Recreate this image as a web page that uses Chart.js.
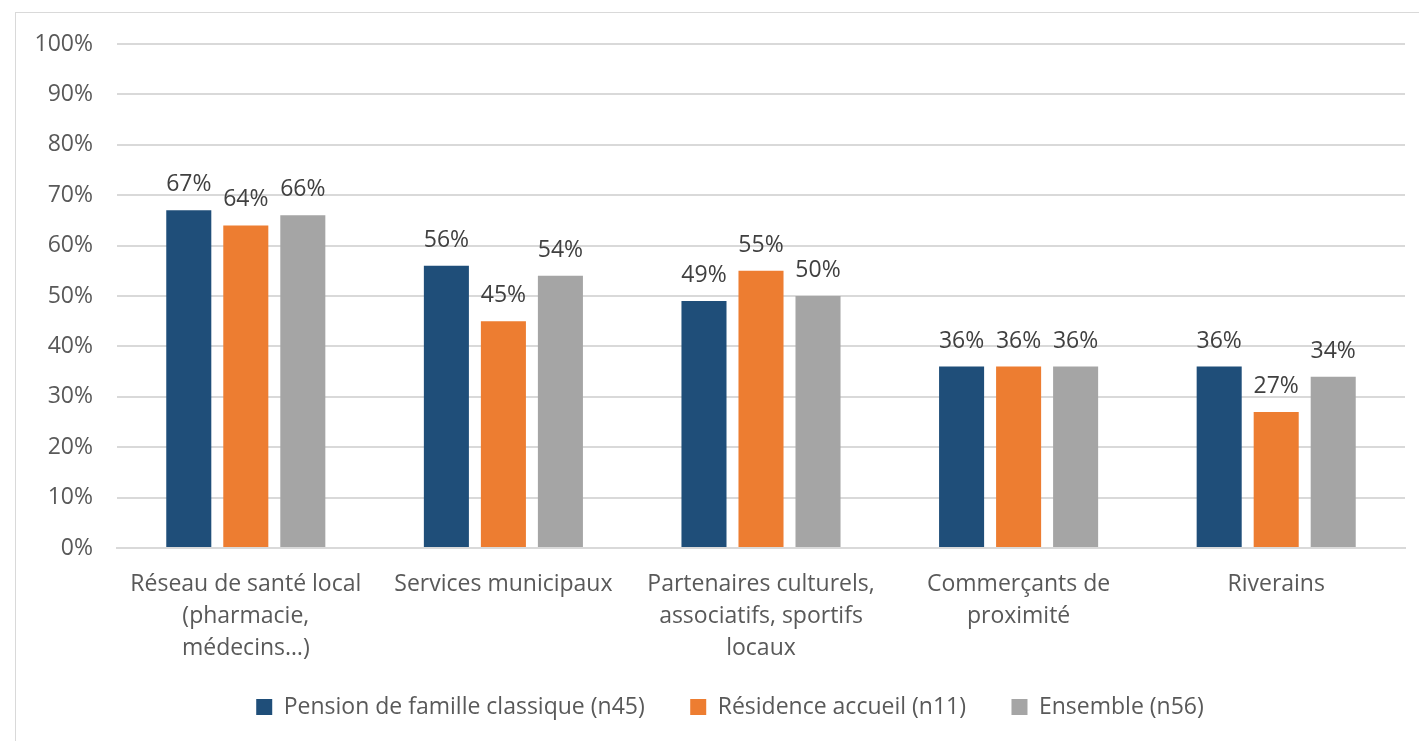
<!DOCTYPE html>
<html lang="fr">
<head>
<meta charset="utf-8">
<title>Partenaires locaux</title>
<script src="https://cdn.jsdelivr.net/npm/chart.js@4.4.1/dist/chart.umd.min.js"></script>
<style>
  html, body { margin: 0; padding: 0; background: #ffffff; }
  #wrap { position: relative; width: 1419px; height: 741px; overflow: hidden; }
  #frame {
    position: absolute; left: 15px; top: 12px; width: 1430px; height: 760px;
    border: 1px solid #d9d9d9; box-sizing: border-box;
  }
  canvas { position: absolute; left: 0; top: 0; }
</style>
</head>
<body>
<div id="wrap">
  <div id="frame"></div>
  <canvas id="chart" width="1419" height="741"></canvas>
</div>
<script>
// Categories (multi-line axis labels)
const categories = [
  ["Réseau de santé local", "(pharmacie,", "médecins…)"],
  ["Services municipaux"],
  ["Partenaires culturels,", "associatifs, sportifs", "locaux"],
  ["Commerçants de", "proximité"],
  ["Riverains"]
];

// Series labels
const seriesNames = [
  "Pension de famille classique (n45)",
  "Résidence accueil (n11)",
  "Ensemble (n56)"
];

// Series values (%)
const pensionFamille = [67, 56, 49, 36, 36];
const residenceAccueil = [64, 45, 55, 36, 27];
const ensemble = [66, 54, 50, 36, 34];

// Y axis ticks
const yTicks = [0, 10, 20, 30, 40, 50, 60, 70, 80, 90, 100];

const FONT = "'Open Sans', Lato, sans-serif";
const SIZE = 23;
const TEXT = "#595959";

// Draws the percentage above each bar
const valueLabels = {
  id: "valueLabels",
  afterDatasetsDraw(chart) {
    const ctx = chart.ctx;
    ctx.save();
    ctx.font = SIZE + "px " + FONT;
    ctx.fillStyle = "#404040";
    ctx.textAlign = "center";
    ctx.textBaseline = "alphabetic";
    chart.data.datasets.forEach((ds, i) => {
      const meta = chart.getDatasetMeta(i);
      meta.data.forEach((bar, j) => {
        ctx.fillText(ds.data[j] + "%", bar.x, bar.y - 19);
      });
    });
    ctx.restore();
  }
};

// Widens the axis boxes after layout so the tick labels are not clipped:
// the three-line category labels run below the x axis box, and the
// y labels sit partly inside the left layout padding.
const roomyLabels = {
  id: "roomyLabels",
  afterLayout(chart) {
    chart.scales.x.bottom += 40;
    chart.scales.y.left = 0;
  }
};

new Chart(document.getElementById("chart"), {
  type: "bar",
  data: {
    labels: categories,
    datasets: [
      { label: seriesNames[0], data: pensionFamille, backgroundColor: "#1f4e79" },
      { label: seriesNames[1], data: residenceAccueil, backgroundColor: "#ed7d31" },
      { label: seriesNames[2], data: ensemble, backgroundColor: "#a5a5a5" }
    ]
  },
  options: {
    responsive: false,
    animation: false,
    devicePixelRatio: 1,
    categoryPercentage: 0.664,
    barPercentage: 0.79,
    layout: { padding: { top: 44, right: 14, bottom: 12.5, left: 55 } },
    plugins: {
      tooltip: { enabled: false },
      legend: {
        position: "bottom",
        labels: {
          color: TEXT,
          font: { family: FONT, size: SIZE },
          boxWidth: 16,
          boxHeight: 16,
          padding: 45.5
        }
      }
    },
    scales: {
      x: {
        grid: { display: false, drawTicks: false },
        border: { display: true, color: "#d9d9d9", width: 2 },
        ticks: {
          color: TEXT,
          font: { family: FONT, size: SIZE, lineHeight: 32 / SIZE },
          padding: 20,
          maxRotation: 0,
          autoSkip: false
        },
        afterFit(scale) { scale.height = 102; }
      },
      y: {
        min: 0,
        max: 100,
        afterBuildTicks(scale) { scale.ticks = yTicks.map(v => ({ value: v })); },
        grid: { color: "#d9d9d9", lineWidth: 2, drawTicks: false },
        border: { display: false },
        ticks: {
          color: TEXT,
          font: { family: FONT, size: SIZE },
          padding: 24,
          callback: v => v + "%"
        },
        afterFit(scale) { scale.width = 62; }
      }
    }
  },
  plugins: [valueLabels, roomyLabels]
});
</script>
</body>
</html>
